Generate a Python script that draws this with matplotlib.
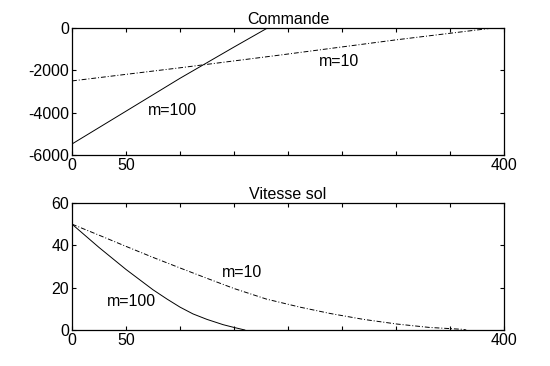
import matplotlib
import matplotlib.pyplot as plt

matplotlib.use('Agg')
plt.rcParams['font.family'] = ['Liberation Sans', 'DejaVu Sans']
plt.rcParams['axes.unicode_minus'] = False

# Commande (top)
cmd_x_m100 = [0, 50, 100, 150, 181]
cmd_y_m100 = [-5480, -3930, -2376, -900, 0]
cmd_x_m10 = [0, 100, 193, 300, 390]
cmd_y_m10 = [-2500, -1880, -1276, -560, 0]

# Vitesse sol (bottom)
vit_x_m100 = [0, 25, 50, 75, 88, 100, 112, 125, 140, 150, 160]
vit_y_m100 = [50, 39, 28.6, 19, 14.6, 10.8, 7.6, 5.0, 2.5, 1.2, 0]
vit_x_m10 = [0, 25, 50, 75, 100, 125, 150, 180, 211, 239, 270, 301, 331, 362, 365]
vit_y_m10 = [50, 44.8, 39.5, 34.3, 29.3, 24.4, 19.6, 14.6, 10.8, 7.8, 5.0, 2.8, 1.2, 0.3, 0]

x_ticks = [0, 50, 100, 150, 200, 250, 300, 350, 400]
x_ticklabels = ['0', '50', '', '', '', '', '', '', '400']

FS = 11.5
dashdot = (0, (5, 2, 1, 2))

fig = plt.figure(figsize=(5.5, 3.66), dpi=100)
ax1 = fig.add_axes([0.1309, 0.5765, 0.7855, 0.347])
ax2 = fig.add_axes([0.1309, 0.0984, 0.7855, 0.347])

ax1.plot(cmd_x_m100, cmd_y_m100, color='black', lw=0.7)
ax1.plot(cmd_x_m10, cmd_y_m10, color='black', lw=0.7, linestyle=dashdot)
ax1.set_ylim(-6000, 0)
ax1.set_yticks([-6000, -4000, -2000, 0])
ax1.set_title('Commande', fontsize=FS, pad=3)
ax1.text(70.6, -3920, 'm=100', fontsize=FS, va='center')
ax1.text(229, -1600, 'm=10', fontsize=FS, va='center')

ax2.plot(vit_x_m100, vit_y_m100, color='black', lw=0.7)
ax2.plot(vit_x_m10, vit_y_m10, color='black', lw=0.7, linestyle=dashdot)
ax2.set_ylim(0, 60)
ax2.set_yticks([0, 20, 40, 60])
ax2.set_title('Vitesse sol', fontsize=FS, pad=3)
ax2.text(32, 13.4, 'm=100', fontsize=FS, va='center')
ax2.text(138.6, 27.3, 'm=10', fontsize=FS, va='center')

for ax in (ax1, ax2):
    ax.set_xlim(0, 400)
    ax.set_xticks(x_ticks)
    ax.set_xticklabels(x_ticklabels)
    ax.tick_params(direction='in', top=True, right=True, length=3, width=0.8,
                   pad=2, labelsize=FS)
    for s in ax.spines.values():
        s.set_linewidth(0.9)

fig.savefig('out.png', dpi=100)
